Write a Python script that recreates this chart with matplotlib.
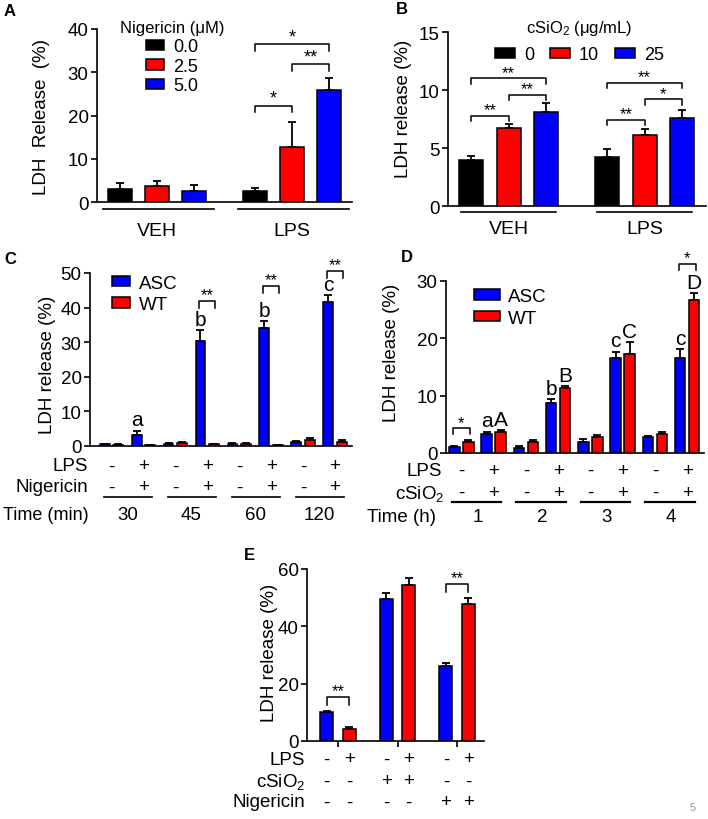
import matplotlib
matplotlib.use('Agg')
import matplotlib.pyplot as plt
import matplotlib.transforms as mtransforms
import numpy as np

plt.rcParams['font.family'] = ['Liberation Sans', 'DejaVu Sans']
plt.rcParams['mathtext.fontset'] = 'custom'
plt.rcParams['mathtext.rm'] = 'Liberation Sans'
plt.rcParams['mathtext.it'] = 'Liberation Sans:italic'
plt.rcParams['axes.linewidth'] = 1.2

W, H = 708, 820
BLACK, RED, BLUE = '#000000', '#ff0000', '#0000ff'
FS = 13.5  # main text size

# ---- data ----
# A: nigericin dose response
a_groups = ['VEH', 'LPS']
a_doses = ['0.0', '2.5', '5.0']
a_mean = np.array([[2.9, 3.6, 2.6], [2.5, 12.8, 26.0]])
a_err = np.array([[1.6, 1.2, 1.3], [0.7, 5.8, 2.6]])

# B: cSiO2 dose response
b_groups = ['VEH', 'LPS']
b_doses = ['0', '10', '25']
b_mean = np.array([[4.0, 6.7, 8.1], [4.2, 6.1, 7.6]])
b_err = np.array([[0.35, 0.4, 0.8], [0.7, 0.55, 0.7]])

# C: time course, nigericin (pairs: -/- then +/+ per time point)
c_times = ['30', '45', '60', '120']
c_lps = ['-', '+'] * 4
c_nig = ['-', '+'] * 4
c_asc = [0.5, 3.2, 0.6, 30.3, 0.6, 34.2, 1.2, 41.5]
c_asc_err = [0.2, 1.2, 0.2, 3.2, 0.2, 1.8, 0.3, 2.0]
c_wt = [0.4, 0.3, 0.8, 0.5, 0.6, 0.3, 1.8, 1.3]
c_wt_err = [0.1, 0.1, 0.3, 0.1, 0.2, 0.1, 0.4, 0.3]
c_letters = {1: 'a', 3: 'b', 5: 'b', 7: 'c'}

# D: time course, cSiO2
d_times = ['1', '2', '3', '4']
d_lps = ['-', '+'] * 4
d_sio2 = ['-', '+'] * 4
d_asc = [1.0, 3.3, 0.8, 8.7, 2.0, 16.5, 2.8, 16.5]
d_asc_err = [0.2, 0.4, 0.5, 0.7, 0.5, 1.2, 0.2, 1.6]
d_wt = [2.0, 3.7, 2.0, 11.4, 2.8, 17.3, 3.4, 26.6]
d_wt_err = [0.3, 0.3, 0.3, 0.3, 0.3, 2.0, 0.3, 1.3]
d_letters_asc = {1: 'a', 3: 'b', 5: 'c', 7: 'c'}
d_letters_wt = {1: 'A', 3: 'B', 5: 'C', 7: 'D'}

# E: LPS / cSiO2 / nigericin
e_asc = [10.0, 49.5, 26.3]
e_asc_err = [0.5, 2.0, 1.0]
e_wt = [4.2, 54.5, 47.8]
e_wt_err = [0.6, 2.3, 2.2]
e_lps = ['-', '+', '-', '+', '-', '+']
e_sio2 = ['-', '-', '+', '+', '-', '-']
e_nig = ['-', '-', '-', '-', '+', '+']

fig = plt.figure(figsize=(W / 100, H / 100), dpi=100)


def px_axes(x0, y0, x1, y1):
    return fig.add_axes([x0 / W, 1 - y1 / H, (x1 - x0) / W, (y1 - y0) / H])


def style(ax):
    for s in ['top', 'right']:
        ax.spines[s].set_visible(False)
    ax.tick_params(axis='y', direction='out', length=4, width=1.2, labelsize=FS, pad=2)
    ax.tick_params(axis='x', length=0, labelbottom=False)


def below(ax, dy):
    # x in data, y = dy pixels under the x axis
    return mtransforms.offset_copy(ax.get_xaxis_transform(), fig=fig, y=-dy, units='dots')


def bars(ax, x, mean, err, color, width, label=None):
    ax.bar(x, mean, width, color=color, edgecolor='black', linewidth=1.1, zorder=3, label=label)
    ax.errorbar(x, mean, yerr=[np.zeros(len(err)), err], fmt='none', ecolor='black',
                elinewidth=1.3, capsize=3, capthick=1.3, zorder=2)


def bracket(ax, x1, x2, y, tick, text, fs=13):
    ax.plot([x1, x1, x2, x2], [y - tick, y, y, y - tick], color='black', lw=1.1, clip_on=False)
    ax.annotate(text, ((x1 + x2) / 2, y), xytext=(0, -1), textcoords='offset points',
                ha='center', va='bottom', fontsize=fs, annotation_clip=False)


def ylab(x, y, text):
    fig.text(x / W, 1 - y / H, text, rotation=90, ha='center', va='center', fontsize=FS)


def rowlab(x, y, text, fs=FS):
    fig.text(x / W, 1 - y / H, text, ha='right', va='center', fontsize=fs)


def sign(ax, x, dy, s):
    ax.text(x, 0, s, transform=below(ax, dy), ha='center', va='center', fontsize=FS)


# ---------------- A ----------------
axA = px_axes(97, 30, 352, 203)
style(axA)
gA = np.array([0, 3.65])
for i, (dose, col) in enumerate(zip(a_doses, [BLACK, RED, BLUE])):
    bars(axA, gA + i, a_mean[:, i], a_err[:, i], col, 0.63, dose)
axA.set_xlim(-0.62, 6.27)
axA.set_ylim(0, 40)
axA.set_yticks([0, 10, 20, 30, 40])
for g, name in enumerate(a_groups):
    axA.plot([gA[g] - 0.45, gA[g] + 2.55], [0, 0], transform=below(axA, 7), color='black', lw=1.2, clip_on=False)
    axA.text(gA[g] + 1, 0, name, transform=below(axA, 28), ha='center', va='center', fontsize=FS + 0.5)
axA.legend(title='Nigericin (μM)', loc='upper left', bbox_to_anchor=(0.09, 1.05), frameon=False,
           fontsize=13, title_fontsize=12, handlelength=1.0, handleheight=0.5, handletextpad=0.5,
           labelspacing=0.15, borderpad=0, borderaxespad=0)
bracket(axA, gA[1], gA[1] + 2, 36.5, 1.5, '*')
bracket(axA, gA[1] + 1, gA[1] + 2, 31.8, 1.5, '**')
bracket(axA, gA[1], gA[1] + 1, 22.3, 1.5, '*')
ylab(42, 117, 'LDH  Release  (%)')

# ---------------- B ----------------
axB = px_axes(448, 33, 706, 207)
style(axB)
gB = np.array([0, 3.63])
for i, (dose, col) in enumerate(zip(b_doses, [BLACK, RED, BLUE])):
    bars(axB, gB + i, b_mean[:, i], b_err[:, i], col, 0.64, dose)
axB.set_xlim(-0.62, 6.27)
axB.set_ylim(0, 15)
axB.set_yticks([0, 5, 10, 15])
for g, name in enumerate(b_groups):
    axB.plot([gB[g] - 0.27, gB[g] + 2.27], [0, 0], transform=below(axB, 6), color='black', lw=1.2, clip_on=False)
    axB.text(gB[g] + 1, 0, name, transform=below(axB, 22), ha='center', va='center', fontsize=FS + 0.5)
axB.legend(title='cSiO$_2$ (μg/mL)', loc='upper center', bbox_to_anchor=(0.51, 1.08), frameon=False, ncol=3,
           fontsize=13, title_fontsize=12, handlelength=1.1, handleheight=0.45, handletextpad=0.5,
           columnspacing=0.9, borderpad=0, borderaxespad=0)
for g in range(2):
    x0 = gB[g]
    lo = [7.8, 7.4][g]
    mid = [9.6, 9.2][g]
    hi = [11.0, 10.6][g]
    bracket(axB, x0, x0 + 1, lo, 0.45, '**', fs=12)
    bracket(axB, x0 + 1, x0 + 2, mid, 0.45, ['**', '*'][g], fs=12)
    bracket(axB, x0, x0 + 2, hi, 0.45, '**', fs=12)
ylab(404, 109, 'LDH release (%)')

# ---------------- C ----------------
axC = px_axes(90, 274, 352, 447)
style(axC)
pc = np.arange(8) * 2.35
bars(axC, pc - 0.5, c_asc, c_asc_err, BLUE, 0.72, 'ASC')
bars(axC, pc + 0.5, c_wt, c_wt_err, RED, 0.72, 'WT')
axC.set_xlim(-1.58, 17.7)
axC.set_ylim(0, 50)
axC.set_yticks(range(0, 51, 10))
axC.legend(loc='upper left', bbox_to_anchor=(0.084, 0.99), frameon=False, fontsize=FS,
           handlelength=0.95, handleheight=0.5, handletextpad=0.5, labelspacing=0.25,
           borderpad=0, borderaxespad=0)
for i in range(8):
    sign(axC, pc[i], 20, c_lps[i])
    sign(axC, pc[i], 41, c_nig[i])
for g, t in enumerate(c_times):
    axC.plot([pc[2 * g] - 0.55, pc[2 * g + 1] + 0.65], [0, 0], transform=below(axC, 51), color='black', lw=1.2, clip_on=False)
    axC.text((pc[2 * g] + pc[2 * g + 1]) / 2, 0, t, transform=below(axC, 68), ha='center', va='center', fontsize=FS)
for i, s in c_letters.items():
    axC.annotate(s, (pc[i] - 0.5, c_asc[i] + c_asc_err[i]), xytext=(0, 1), textcoords='offset points',
                 ha='center', va='bottom', fontsize=15, annotation_clip=False)
for i, y in zip([3, 5, 7], [42.0, 46.2, 50.6]):
    bracket(axC, pc[i] - 0.6, pc[i] + 0.6, y, 2.0, '**', fs=12)
rowlab(88, 467, 'LPS')
rowlab(88, 488, 'Nigericin')
rowlab(89, 515, 'Time (min)', fs=13)
ylab(47, 365, 'LDH release (%)')

# ---------------- D ----------------
axD = px_axes(446, 282, 704, 454)
style(axD)
pd_ = np.arange(8) * 2.3
bars(axD, pd_ - 0.5, d_asc, d_asc_err, BLUE, 0.75, 'ASC')
bars(axD, pd_ + 0.5, d_wt, d_wt_err, RED, 0.75, 'WT')
axD.set_xlim(-1.1, 17.3)
axD.set_ylim(0, 30)
axD.set_yticks([0, 10, 20, 30])
axD.legend(loc='upper left', bbox_to_anchor=(0.109, 0.96), frameon=False, fontsize=FS,
           handlelength=1.4, handleheight=0.5, handletextpad=0.4, labelspacing=0.25,
           borderpad=0, borderaxespad=0)
for i in range(8):
    sign(axD, pd_[i], 17, d_lps[i])
    sign(axD, pd_[i], 39, d_sio2[i])
for g, t in enumerate(d_times):
    axD.plot([pd_[2 * g] - 0.7, pd_[2 * g + 1] + 0.55], [0, 0], transform=below(axD, 49), color='black', lw=1.6, clip_on=False)
    axD.text((pd_[2 * g] + pd_[2 * g + 1]) / 2, 0, t, transform=below(axD, 64), ha='center', va='center', fontsize=FS)
for i, s in d_letters_asc.items():
    axD.annotate(s, (pd_[i] - 0.5, d_asc[i] + d_asc_err[i]), xytext=(0, 1), textcoords='offset points',
                 ha='center', va='bottom', fontsize=15, annotation_clip=False)
for i, s in d_letters_wt.items():
    axD.annotate(s, (pd_[i] + 0.5, d_wt[i] + d_wt_err[i]), xytext=(0, 1), textcoords='offset points',
                 ha='center', va='bottom', fontsize=15, annotation_clip=False)
bracket(axD, pd_[0] - 0.6, pd_[0] + 0.6, 4.3, 0.9, '*', fs=12)
bracket(axD, pd_[7] - 0.6, pd_[7] + 0.6, 33.0, 1.0, '*', fs=12)
rowlab(442, 472, 'LPS')
rowlab(444, 494, 'cSiO$_2$')
rowlab(436, 518, 'Time (h)')
ylab(392, 353, 'LDH release (%)')

# ---------------- E ----------------
axE = px_axes(307, 570, 484, 742)
style(axE)
ge = np.arange(3) * 2.65
bars(axE, ge - 0.5, e_asc, e_asc_err, BLUE, 0.58)
bars(axE, ge + 0.5, e_wt, e_wt_err, RED, 0.58)
axE.set_xlim(-1.38, 6.5)
axE.set_ylim(0, 60)
axE.set_yticks([0, 20, 40, 60])
axE.set_xticks(ge)
axE.tick_params(axis='x', length=4, width=1.2, direction='out')
xe = np.sort(np.concatenate([ge - 0.5, ge + 0.5]))
for i in range(6):
    sign(axE, xe[i], 18, e_lps[i])
    sign(axE, xe[i], 40, e_sio2[i])
    sign(axE, xe[i], 61, e_nig[i])
bracket(axE, ge[0] - 0.5, ge[0] + 0.5, 15.3, 2.8, '**', fs=12)
bracket(axE, ge[2] - 0.5, ge[2] + 0.5, 54.7, 2.8, '**', fs=12)
rowlab(305, 761, 'LPS')
rowlab(305, 782, 'cSiO$_2$')
rowlab(305, 803, 'Nigericin')
ylab(270, 653, 'LDH release (%)')

# panel letters and page number
for s, (x, y) in zip('ABCDE', [(10, 12), (402, 10), (10, 259), (407, 258), (249, 555)]):
    fig.text(x / W, 1 - y / H, s, fontweight='bold', fontsize=12, ha='center', va='center')
fig.text(693 / W, 1 - 808 / H, '5', color='#999999', fontsize=8, ha='center', va='center')

fig.savefig('out.png', dpi=100)
